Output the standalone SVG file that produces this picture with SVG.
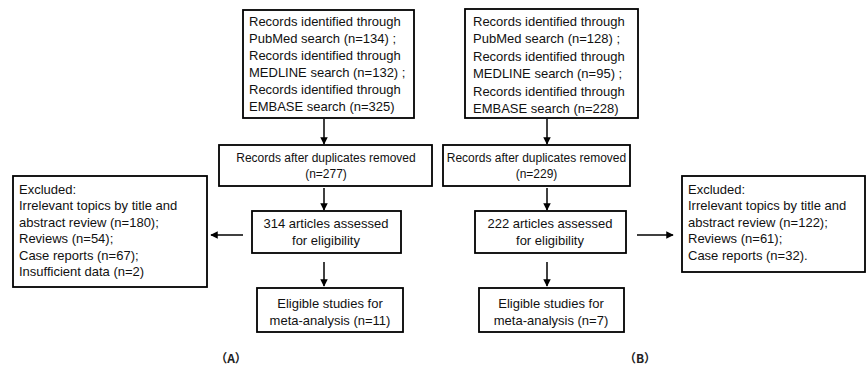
<svg xmlns="http://www.w3.org/2000/svg" width="866" height="368" viewBox="0 0 866 368">
<style>
.box{fill:#fff;stroke:#000;stroke-width:1.8}
.t{font-family:"Liberation Sans",Arial,sans-serif;font-size:13px;fill:#111}
.s{font-size:12px}
.c{text-anchor:middle}
.lbl{font-family:"Noto Sans CJK SC","DejaVu Sans",sans-serif;font-size:12px;font-weight:bold;fill:#222;text-anchor:middle}
.conn line{stroke:#000;stroke-width:1.5;marker-end:url(#ah)}
</style>
<defs>
<marker id="ah" viewBox="0 0 10 10" refX="9" refY="5" markerWidth="5" markerHeight="5" orient="auto" markerUnits="strokeWidth">
<path d="M0,0 L10,5 L0,10 Z" fill="#000"/>
</marker>
</defs>
<rect width="866" height="368" fill="#fff"/>
<g id="connectors" class="conn">
<line x1="324" y1="119" x2="324" y2="144"/>
<line x1="324" y1="188" x2="324" y2="210"/>
<line x1="243" y1="235" x2="211" y2="235"/>
<line x1="324" y1="262" x2="324" y2="286"/>
<line x1="547" y1="119" x2="547" y2="144"/>
<line x1="547" y1="188" x2="547" y2="210"/>
<line x1="637" y1="235" x2="673" y2="235"/>
<line x1="547" y1="262" x2="547" y2="286"/>
</g>
<g id="topA">
<rect class="box" x="243" y="10" width="171" height="108"/>
<text class="t" x="249" y="26">Records identified through</text>
<text class="t" x="249" y="43">PubMed search (n=134) ;</text>
<text class="t" x="249" y="60">Records identified through</text>
<text class="t" x="249" y="77">MEDLINE search (n=132) ;</text>
<text class="t" x="249" y="94">Records identified through</text>
<text class="t" x="249" y="111">EMBASE search (n=325)</text>
</g>
<g id="dupA">
<rect class="box" x="219" y="145" width="213" height="41"/>
<text class="t s c" x="326" y="161.5">Records after duplicates removed</text>
<text class="t s c" x="326" y="178">(n=277)</text>
</g>
<g id="assessA">
<rect class="box" x="252" y="211" width="149" height="42"/>
<text class="t c" x="326" y="228">314 articles assessed</text>
<text class="t c" x="326" y="245">for eligibility</text>
</g>
<g id="eligA">
<rect class="box" x="257" y="288" width="146" height="44"/>
<text class="t c" x="330" y="307.5">Eligible studies for</text>
<text class="t c" x="330" y="324.5">meta-analysis (n=11)</text>
</g>
<g id="exclA">
<rect class="box" x="13" y="176" width="194" height="111"/>
<text class="t" x="19" y="193.5">Excluded:</text>
<text class="t" x="19" y="210">Irrelevant topics by title and</text>
<text class="t" x="19" y="226.5">abstract review (n=180);</text>
<text class="t" x="19" y="243">Reviews (n=54);</text>
<text class="t" x="19" y="259.5">Case reports (n=67);</text>
<text class="t" x="19" y="276">Insufficient data (n=2)</text>
</g>
<g id="topB">
<rect class="box" x="465" y="9" width="173" height="109"/>
<text class="t" x="473" y="25.5">Records identified through</text>
<text class="t" x="473" y="43">PubMed search (n=128) ;</text>
<text class="t" x="473" y="60.5">Records identified through</text>
<text class="t" x="473" y="78">MEDLINE search (n=95) ;</text>
<text class="t" x="473" y="95.5">Records identified through</text>
<text class="t" x="473" y="112.5">EMBASE search (n=228)</text>
</g>
<g id="dupB">
<rect class="box" x="443" y="145" width="187" height="41"/>
<text class="t s c" x="536.5" y="161.5">Records after duplicates removed</text>
<text class="t s c" x="536.5" y="178">(n=229)</text>
</g>
<g id="assessB">
<rect class="box" x="475" y="211" width="151" height="42"/>
<text class="t c" x="550" y="228">222 articles assessed</text>
<text class="t c" x="550" y="245">for eligibility</text>
</g>
<g id="eligB">
<rect class="box" x="479" y="288" width="145" height="44"/>
<text class="t c" x="551" y="307.5">Eligible studies for</text>
<text class="t c" x="551" y="324.5">meta-analysis (n=7)</text>
</g>
<g id="exclB">
<rect class="box" x="682" y="176" width="183" height="96"/>
<text class="t" x="688" y="193.5">Excluded:</text>
<text class="t" x="688" y="210">Irrelevant topics by title and</text>
<text class="t" x="688" y="226.5">abstract review (n=122);</text>
<text class="t" x="688" y="243">Reviews (n=61);</text>
<text class="t" x="688" y="259.5">Case reports (n=32).</text>
</g>
<g id="labels">
<text class="lbl" x="231" y="363">（A）</text>
<text class="lbl" x="640" y="363">（B）</text>
</g>
</svg>
